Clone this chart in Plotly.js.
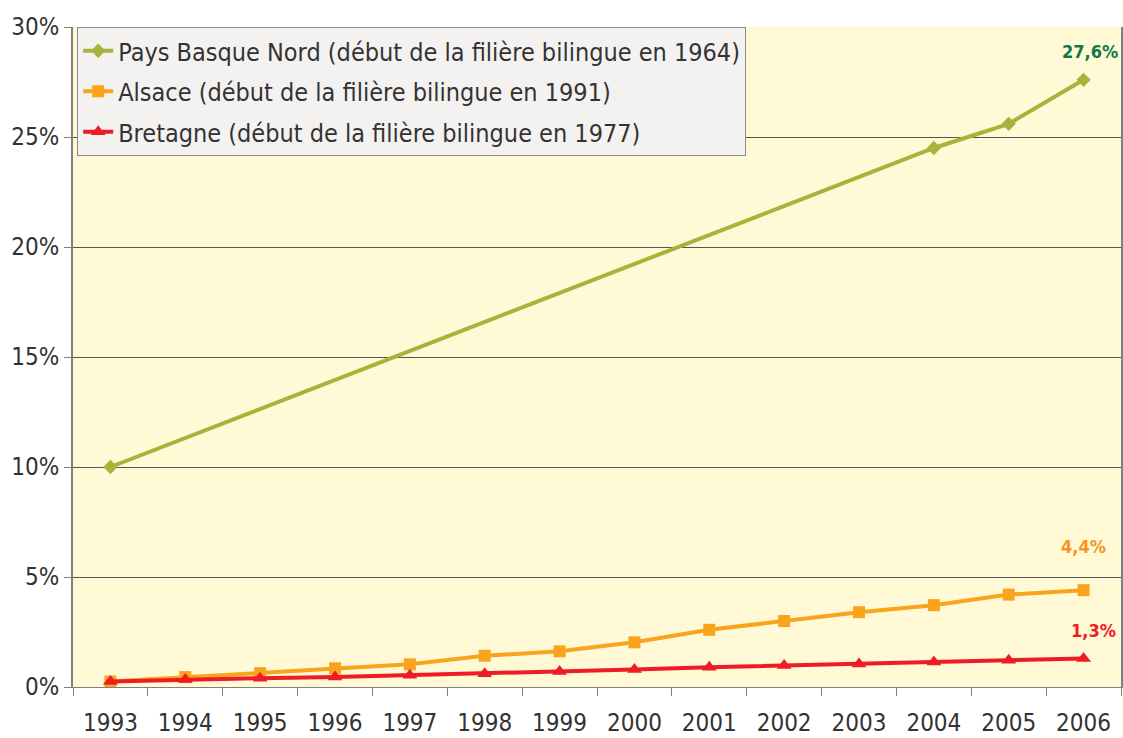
<!DOCTYPE html>
<html><head><meta charset="utf-8">
<script src="https://cdn.plot.ly/plotly-3.0.1.min.js"></script>
<style>html,body{margin:0;padding:0;background:#fff}#c{width:1123px;height:738px}</style>
</head><body><div id="c"></div>
<script>
const years = ['1993','1994','1995','1996','1997','1998','1999','2000','2001','2002','2003','2004','2005','2006'];
const basque = [10.0, null, null, null, null, null, null, null, null, null, null, 24.5, 25.6, 27.6];
const alsace = [0.25, 0.45, 0.63, 0.85, 1.03, 1.42, 1.62, 2.03, 2.6, 3.0, 3.4, 3.72, 4.2, 4.4];
const bretagne = [0.25, 0.34, 0.4, 0.45, 0.53, 0.6, 0.7, 0.8, 0.9, 0.98, 1.05, 1.14, 1.22, 1.3];
const names = ['Pays Basque Nord (début de la filière bilingue en 1964)', 'Alsace (début de la filière bilingue en 1991)', 'Bretagne (début de la filière bilingue en 1977)'];
const labels = ['27,6%', '4,4%', '1,3%'];
const colors = ['#A6B43A', '#F8A51D', '#EE1C25'];
const labelColors = ['#0E7A4C', '#F7941D', '#EE1C25'];

const F = 'DejaVu Sans Condensed, DejaVu Sans, sans-serif';
const series = [basque, alsace, bretagne];
const symbols = ['diamond', 'square', 'triangle-up'];
const sizes = [11, 12, 13];

const traces = series.map((s, i) => ({
  x: years, y: s, name: names[i], type: 'scatter', mode: 'lines+markers',
  connectgaps: true, legendgroup: 'g' + i,
  line: {color: colors[i], width: 4},
  marker: {symbol: symbols[i], size: sizes[i], color: colors[i]}
}));

const shifts = [[6, 28], [0, 44], [10, 28]];
const annotations = series.map((s, i) => ({
  x: years.length - 1, y: s[s.length - 1], text: labels[i],
  showarrow: false, xshift: shifts[i][0], yshift: shifts[i][1],
  font: {family: F, size: 18, color: labelColors[i], weight: 'bold'}
}));

const layout = {
  width: 1123, height: 738,
  margin: {l: 73, r: 2, t: 27, b: 51},
  paper_bgcolor: '#FFFFFF', plot_bgcolor: '#FFF9D6',
  font: {family: F, size: 24, color: '#333333'},
  showlegend: true,
  legend: {x: 0.004, y: 1, xanchor: 'left', yanchor: 'top', bgcolor: '#F4F2F0',
    bordercolor: '#8A8A8A', borderwidth: 1, font: {family: F, size: 25, color: '#333333'},
    tracegroupgap: 5, itemwidth: 30},
  xaxis: {type: 'category', range: [-0.5, years.length - 0.5], tickson: 'boundaries', ticks: 'outside', ticklen: 8, tickcolor: '#808080',
    showgrid: false, showline: true, linecolor: '#808080', linewidth: 1,
    ticklabelstandoff: 14, tickangle: 0, tickfont: {family: F, size: 24, color: '#333333'}},
  yaxis: {range: [0, 30], dtick: 5, ticksuffix: '%', ticks: 'outside', ticklen: 7, tickcolor: '#808080',
    showgrid: true, gridcolor: '#555555', gridwidth: 1, zeroline: false,
    showline: true, linecolor: '#808080', linewidth: 2, mirror: true,
    tickfont: {family: F, size: 24, color: '#333333'}},
  annotations: annotations
};

Plotly.newPlot('c', traces, layout, {displayModeBar: false, staticPlot: true});
</script></body></html>
